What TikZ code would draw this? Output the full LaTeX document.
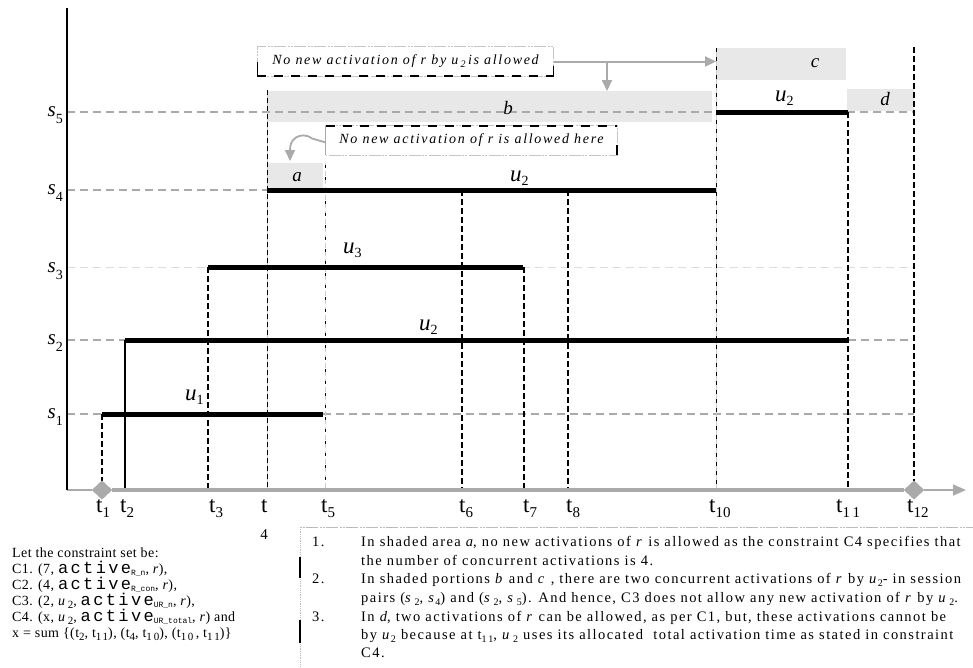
\documentclass[tikz,border=0pt]{standalone}
\usepackage{fontspec}
\setmainfont{Liberation Serif}
\newfontfamily\monofont{Liberation Mono}
\usetikzlibrary{arrows.meta,shapes.geometric}
\definecolor{axgray}{HTML}{AAAAAA}
\definecolor{shadegray}{HTML}{E8E8E8}
\definecolor{lightdash}{HTML}{DDDDDD}
\newcommand\fs[1]{\fontsize{#1}{#1}\selectfont}
\newcommand\tlab[1]{t\raisebox{-5pt}{\fs{15}#1}}
\newcommand\slab[1]{\textit{s}\raisebox{-7pt}{\fs{14}#1}}
\newcommand\ulab[1]{\textit{u}\raisebox{-4pt}{\fs{14}#1}}
\newcommand\act[1]{{\fs{17}\monofont\addfontfeature{LetterSpace=14}active}\raisebox{-2pt}{\fs{8}\monofont #1}}
\newcommand\sbs[1]{\raisebox{-3pt}{\fs{10}#1}}
\newcommand\lsb[1]{\raisebox{-3pt}{\fs{11}\addfontfeature{LetterSpace=15}#1}}
\begin{document}
\begin{tikzpicture}[x=1pt,y=-1pt,
  bar/.style={line width=5pt},
  gdash/.style={axgray,line width=2pt,dash pattern=on 8pt off 5pt},
  vdash/.style={line width=2pt,dash pattern=on 6pt off 3pt},
  vthin/.style={line width=0.9pt,dash pattern=on 5pt off 3pt},
  vgray/.style={axgray!60,line width=0.9pt},
  shadebox/.style={fill=shadegray},
  boxlab/.style={font=\fs{19}\itshape,inner sep=0},
  tl/.style={font=\fs{23},anchor=base west,inner sep=0},
  sl/.style={font=\fs{21},anchor=base east,inner sep=0},
  ul/.style={font=\fs{23},anchor=base west,inner sep=0},
  callout/.style={font=\fs{14}\itshape\addfontfeature{LetterSpace=12},inner sep=0,minimum height=29pt},
  garrow/.style={axgray,line width=2pt,-{Triangle[length=11pt,width=10pt]}},
  para/.style={font=\fs{14.5}\addfontfeature{LetterSpace=10},anchor=base west,inner sep=0},
  lpara/.style={font=\fs{14}\addfontfeature{LetterSpace=3},anchor=base west,inner sep=0},
  dmd/.style={diamond,fill=axgray,minimum width=20pt,minimum height=19pt,inner sep=0}
]
\useasboundingbox (0,0) rectangle (973,667);

% shaded areas
\fill[shadebox] (268,163) rectangle (323,188);
\fill[shadebox] (268,91) rectangle (712,122);
\fill[shadebox] (717,48) rectangle (846,80);
\fill[shadebox] (847,89) rectangle (914,111);

% horizontal gray dashed guide lines
\draw[gdash] (67,112) -- (914,112);
\draw[gdash] (67,190) -- (267,190);
\draw[lightdash,line width=1pt,dash pattern=on 8pt off 5pt] (67,267) -- (914,267);
\draw[gdash] (67,340) -- (125,340);
\draw[gdash] (848,340) -- (914,340);
\draw[gdash] (67,414) -- (102,414);
\draw[gdash] (323,414) -- (914,414);

% vertical time lines
\draw[vdash] (102,414) -- (102,490);
\draw[line width=2.2pt] (125,340) -- (125,490);
\draw[vdash] (208,267) -- (208,490);
\draw[vgray] (267,90) -- (267,490);
\draw[vthin] (267,90) -- (267,490);
\draw[vgray,dash pattern=on 5pt off 3pt] (325,163) -- (325,490);
\draw[vthin,dash pattern=on 3pt off 9pt] (325,165) -- (325,490);
\draw[vdash] (462,190) -- (462,490);
\draw[vdash] (524,267) -- (524,490);
\draw[vdash] (568,190) -- (568,490);
\draw[vgray] (716,48) -- (716,490);
\draw[vthin,dash pattern=on 4pt off 5pt] (716,48) -- (716,490);
\draw[vdash] (848,112) -- (848,490);
\draw[vdash] (914,47) -- (914,490);

% usage bars
\draw[bar] (102,414) -- (323,414);
\draw[bar] (125,340) -- (848,340);
\draw[bar] (208,267) -- (523,267);
\draw[bar] (267,190) -- (716,190);
\draw[bar] (716,112) -- (848,112);

% axes
\coordinate (O) at (67,490);
\coordinate (ytop) at (67,8);
\coordinate (xend) at (966,490);
\node[dmd] (d1) at (102,490) {};
\node[dmd] (d12) at (914,490) {};
\draw[axgray,line width=1.2pt] (O) -- (d1.west);
\draw[axgray,line width=4pt] (d1.east) -- (d12.west);
\draw[axgray,line width=1.5pt,-{Triangle[length=13pt,width=11pt]}] (d12.east) -- (xend);
\node[dmd] at (102,490) {};
\node[dmd] at (914,490) {};
\draw[line width=2.5pt] (ytop) -- (O);

% box labels
\node[boxlab] (la) at (297,177) {a};
\node[boxlab] (lb) at (508,108) {b};
\node[boxlab] (lc) at (815,63) {c};
\node[boxlab] (ld) at (885,99) {d};

% session labels
\node[sl] (s5) at (63,116) {\slab{5}};
\node[sl] (s4) at (63,194) {\slab{4}};
\node[sl] (s3) at (63,272) {\slab{3}};
\node[sl] (s2) at (63,344) {\slab{2}};
\node[sl] (s1) at (63,418) {\slab{1}};

% user labels
\node[ul] (u1) at (185,400) {\ulab{1}};
\node[ul] (u2a) at (419,330) {\ulab{2}};
\node[ul] (u3) at (343,253) {\ulab{3}};
\node[ul] (u2b) at (510,181) {\ulab{2}};
\node[ul] (u2c) at (775,101) {\ulab{2}};

% time labels
\node[tl] (t1) at (96,512) {\tlab{1}};
\node[tl] (t2) at (120,512) {\tlab{2}};
\node[tl] (t3) at (209,512) {\tlab{3}};
\node[tl] (t4) at (261,512) {t};
\node[font=\fs{15},anchor=base,inner sep=0] (t4n) at (264,539) {4};
\node[tl] (t5) at (321,512) {\tlab{5}};
\node[tl] (t6) at (459,512) {\tlab{6}};
\node[tl] (t7) at (523,512) {\tlab{7}};
\node[tl] (t8) at (566,512) {\tlab{8}};
\node[tl] (t10) at (709,512) {\tlab{10}};
\node[tl] (t11) at (836,512) {\tlab{1\,1}};
\node[tl] (t12) at (907,512) {\tlab{12}};

% callout 1
\node[callout,minimum width=296pt] (c1) at (405.5,61.5) {No new activation of \textit{r} by \textit{u}\,\raisebox{-3pt}{\fs{10}2}\,is allowed};
\draw[axgray!70,line width=0.7pt,dash pattern=on 2pt off 1pt on 2pt off 1pt on 12pt off 2pt] (c1.south west) rectangle (c1.north east);
\draw[line width=1.5pt,dash pattern=on 9pt off 8pt] (c1.south west) -- (c1.south east);
\draw[line width=1.5pt] (c1.south west) -- ++(0,-14);
\draw[line width=1.5pt] (c1.south east) -- ++(0,-10);
\coordinate (t10top) at (716,61.5);
\coordinate (bdrop) at (607,61.5);
\coordinate (btop) at (607,91);
\draw[garrow] (c1.east) -- (t10top);
\draw[garrow] (bdrop) -- (btop);

% callout 2
\node[callout,minimum width=291pt] (c2) at (471.5,140.5) {No new activation of \textit{r} is allowed here};
\draw[axgray!70,line width=0.7pt,dash pattern=on 2pt off 1pt on 2pt off 1pt on 12pt off 2pt] (c2.south west) rectangle (c2.north east);
\draw[line width=1.5pt,dash pattern=on 9pt off 8pt] (c2.north west) -- (c2.north east);
\draw[axgray,line width=1.2pt] (c2.north west) -- (c2.south west);
\draw[line width=1.5pt] (c2.south east) -- ++(0,-10);
\coordinate (atop) at (290,161);
\draw[garrow,line width=1.8pt] ([yshift=-2pt]c2.west) -- (312,138.5) .. controls (306,134) and (300,135) .. (296,137.5) .. controls (291,141) and (290,145) .. (atop);

% explanation box
\coordinate (ebl) at (300,667);
\coordinate (etl) at (300,527);
\coordinate (etr) at (973,527);
\draw[axgray!80,line width=0.8pt,dash pattern=on 2pt off 1pt on 2pt off 1pt on 12pt off 2pt] (etl) -- (etr);
\draw[axgray!80,line width=0.8pt,densely dotted] (etl) -- (ebl);
\draw[line width=1.8pt] (300,557) -- (300,578);
\draw[line width=1.8pt] (300,620) -- (300,643);

\node[para] (n1) at (312,546) {1.};
\node[para] (n2) at (312,583) {2.};
\node[para] (n3) at (312,621) {3.};
\node[para] (e1) at (361,546) {In shaded area \textit{a}, no new activations of \textit{r} is allowed as the constraint C4 specifies that};
\node[para] (e2) at (361,565) {the number of concurrent activations is 4.};
\node[para] (e3) at (361,583) {In shaded portions \textit{b} and \textit{c}\ , there are two concurrent activations of \textit{r} by \textit{u}\sbs{2}- in session};
\node[para] (e4) at (361,602) {pairs (\textit{s}\,\sbs{2}, \textit{s}\sbs{4}) and (\textit{s}\,\sbs{2}, \textit{s}\,\sbs{5}). And hence, C3 does not allow any new activation of \textit{r} by \textit{u}\,\sbs{2}.};
\node[para] (e5) at (361,621) {In \textit{d}, two activations of \textit{r} can be allowed, as per C1, but, these activations cannot be};
\node[para] (e6) at (361,639) {by \textit{u}\sbs{2} because at t\sbs{1\,1}, \textit{u}\,\sbs{2} uses its allocated\ \ total activation time as stated in constraint};
\node[para] (e7) at (361,657) {C4.};

% constraint set
\node[lpara] (k0) at (12,557) {Let the constraint set be:};
\node[lpara] (k1) at (12,573) {C1. (7, \act{R\_n}, \textit{r}),};
\node[lpara] (k2) at (12,589) {C2. (4, \act{R\_con}, \textit{r}),};
\node[lpara] (k3) at (12,605) {C3. (2, \textit{u}\,\lsb{2}, \act{UR\_n}, \textit{r}),};
\node[lpara] (k4) at (12,621) {C4. (x, \textit{u}\,\lsb{2}, \act{UR\_total}, \textit{r}) and};
\node[lpara] (k5) at (12,637) {x = sum \{(t\lsb{2}, t\lsb{11}), (t\lsb{4}, t\lsb{1\,0}), (t\lsb{10}\,, t\lsb{1\,1})\}};
\end{tikzpicture}
\end{document}
